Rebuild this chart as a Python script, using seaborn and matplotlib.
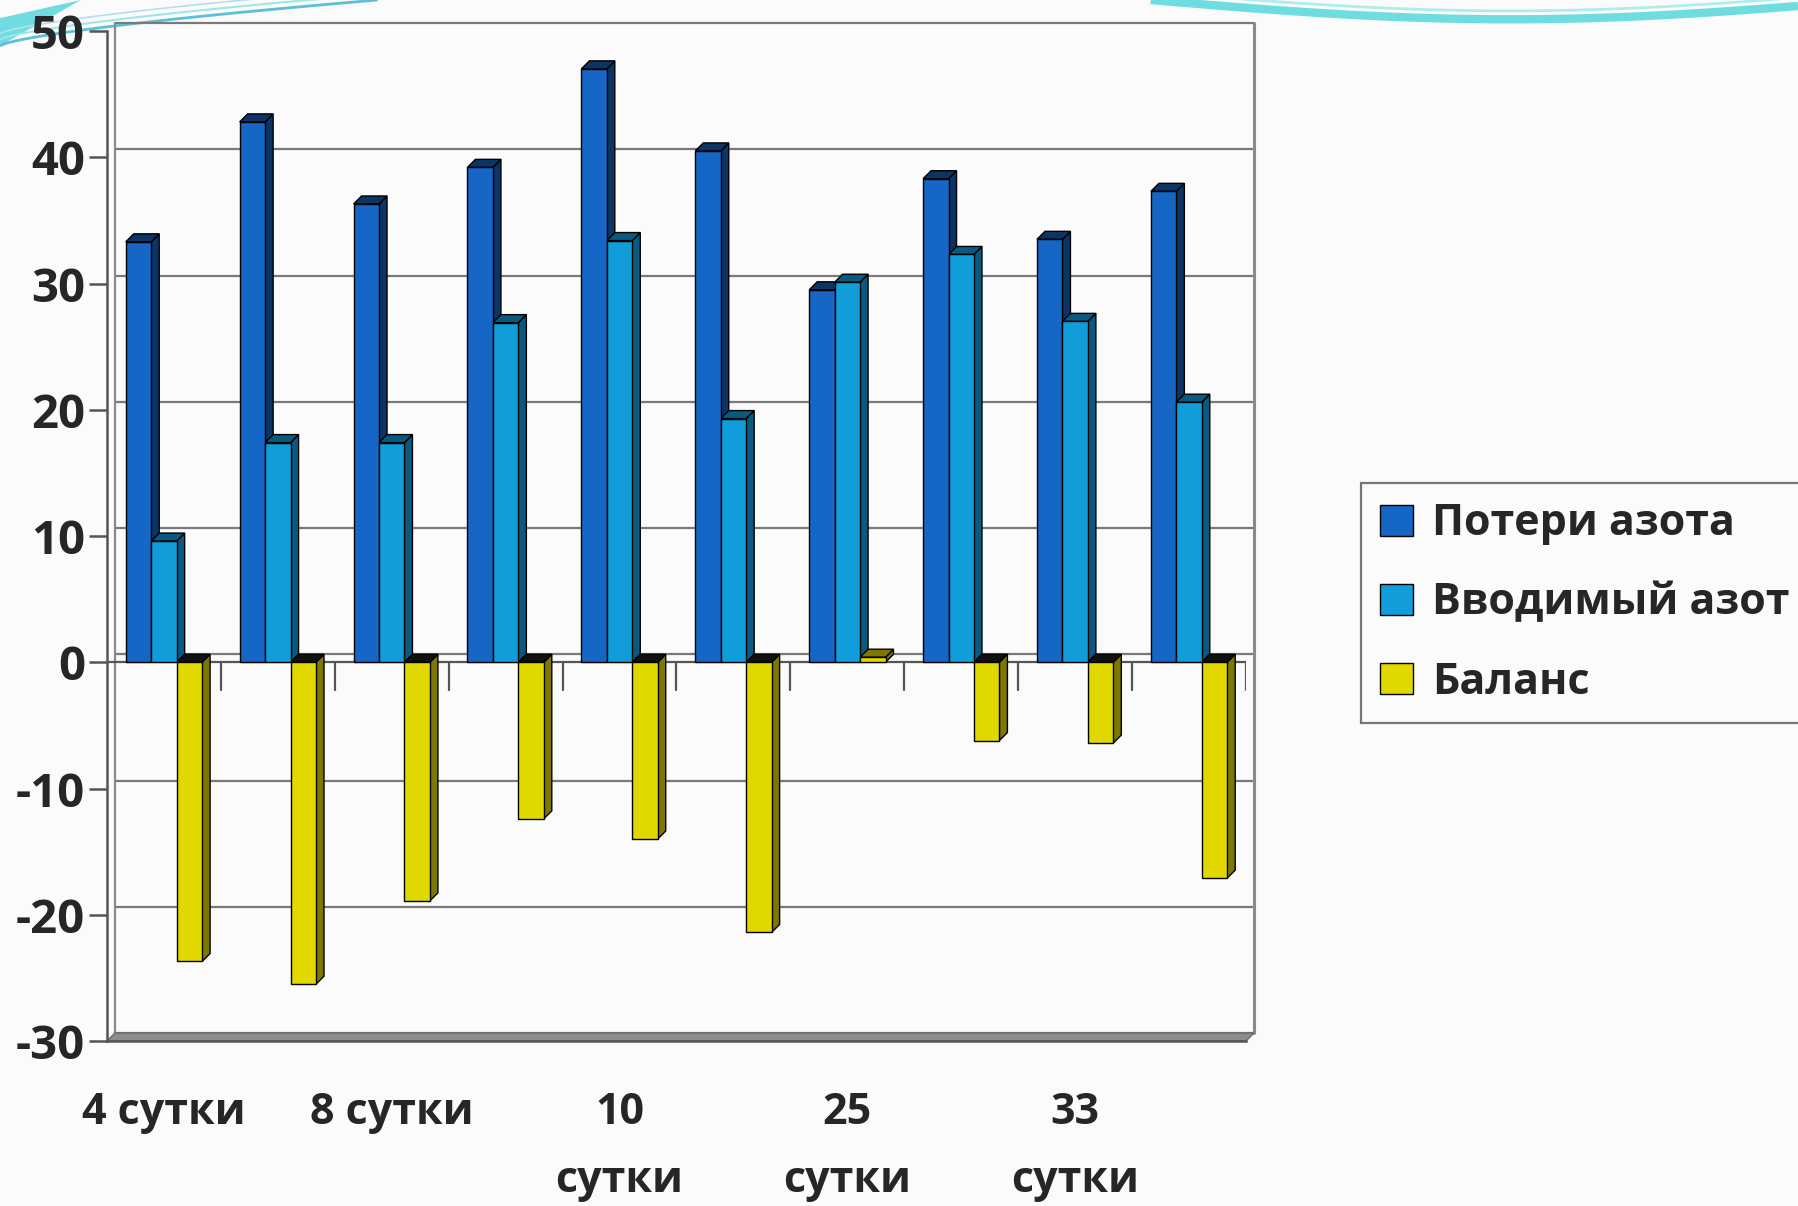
import numpy as np
import pandas as pd
import matplotlib
matplotlib.use("Agg")
import matplotlib.pyplot as plt
from matplotlib.patches import Polygon
from matplotlib.lines import Line2D
import seaborn as sns

# Nitrogen balance by observation period (10 periods, every other one labelled)
periods = list(range(1, 11))
tick_labels = ["4 сутки", "", "8 сутки", "", "10\nсутки",
               "", "25\nсутки", "", "33\nсутки", ""]
losses = [33.3, 42.8, 36.3, 39.2, 47.0, 40.5, 29.5, 38.3, 33.5, 37.3]
intake = [9.6, 17.4, 17.4, 26.9, 33.4, 19.3, 30.1, 32.3, 27.0, 20.6]
balance = [-23.7, -25.5, -18.9, -12.4, -14.0, -21.4, 0.4, -6.2, -6.4, -17.1]
series = ["Потери азота", "Вводимый азот", "Баланс"]
y_ticks = [-30, -20, -10, 0, 10, 20, 30, 40, 50]

front = ["#1666C6", "#109DD9", "#E1D800"]
side = ["#0C3566", "#0A5A80", "#7E7800"]

df = pd.DataFrame({
    "period": periods * 3,
    "value": losses + intake + balance,
    "series": [series[0]] * 10 + [series[1]] * 10 + [series[2]] * 10,
})

sns.set_theme(style="white")
plt.rcParams["font.family"] = ["Open Sans", "DejaVu Sans"]
plt.rcParams["axes.unicode_minus"] = False

fig = plt.figure(figsize=(17.98, 12.06), dpi=100)
fig.patch.set_facecolor("#FBFBFB")
ax = fig.add_axes([0.0595, 0.1368, 0.6335, 0.8375])
ax.set_facecolor("#FBFBFB")

sns.barplot(data=df, x="period", y="value", hue="series", order=periods,
            hue_order=series, palette=front, width=0.67, dodge=True,
            edgecolor="black", linewidth=1.0, ax=ax, legend=False,
            saturation=1, zorder=3)

ax.set_xlim(-0.5, 9.5)
ax.set_ylim(-30, 50)

# pseudo-3D depth offset in data units
fig.canvas.draw()
px_x = ax.transData.transform((1, 0))[0] - ax.transData.transform((0, 0))[0]
px_y = ax.transData.transform((0, 10))[1] - ax.transData.transform((0, 0))[1]
depth_px = 8.0
dx = depth_px / px_x
dy = depth_px / px_y * 10

# back wall with grid lines
for yv in y_ticks:
    ax.plot([-0.5 + dx, 9.5 + dx], [yv + dy, yv + dy], color="#7A7A7A",
            lw=1.6, zorder=0, clip_on=False)
ax.plot([9.5 + dx, 9.5 + dx], [-30 + dy, 50 + dy], color="#8A8A8A",
        lw=2.2, zorder=0, clip_on=False)
ax.plot([-0.5 + dx, -0.5 + dx], [-30 + dy, 50 + dy], color="#8A8A8A",
        lw=1.6, zorder=0, clip_on=False)

# floor strip
floor = Polygon([(-0.5, -30), (9.5, -30), (9.5 + dx, -30 + dy),
                 (-0.5 + dx, -30 + dy)], closed=True, facecolor="#8C8C8C",
                edgecolor="#6A6A6A", lw=1.0, zorder=1, clip_on=False)
ax.add_patch(floor)

# side and top faces of each bar
for ci, cont in enumerate(ax.containers):
    for bar in cont:
        x0 = bar.get_x()
        x1 = x0 + bar.get_width()
        y0 = bar.get_y()
        y1 = y0 + bar.get_height()
        top, bot = max(y0, y1), min(y0, y1)
        sf = Polygon([(x1, bot), (x1, top), (x1 + dx, top + dy),
                      (x1 + dx, bot + dy)], closed=True,
                     facecolor=side[ci], edgecolor="black", lw=1.0,
                     zorder=2.5)
        tf_color = side[ci] if y1 >= y0 else "#111111"
        tf = Polygon([(x0, top), (x1, top), (x1 + dx, top + dy),
                      (x0 + dx, top + dy)], closed=True,
                     facecolor=tf_color, edgecolor="black", lw=1.0,
                     zorder=2.5)
        ax.add_patch(sf)
        ax.add_patch(tf)

# zero line with category separators
ax.axhline(0, color="#555555", lw=1.6, zorder=2)
for xb in np.arange(0.5, 9.6, 1.0):
    ax.plot([xb, xb], [0, -2.2], color="#555555", lw=1.6, zorder=2)

for s in ["top", "right"]:
    ax.spines[s].set_visible(False)
ax.spines["left"].set_color("#555555")
ax.spines["left"].set_linewidth(1.8)
ax.spines["bottom"].set_color("#555555")
ax.spines["bottom"].set_linewidth(1.8)

ax.set_yticks(y_ticks)
ax.set_yticklabels([str(v) for v in y_ticks])
ax.set_xticks(range(10))
ax.set_xticklabels(tick_labels, va="top", linespacing=1.75)
ax.set_xticks(np.arange(-0.5, 9.6, 1.0), minor=True)
ax.tick_params(axis="x", which="major", length=0, pad=36, labelsize=31)
ax.tick_params(axis="x", which="minor", length=14, width=1.8,
               color="#555555", direction="out")
ax.tick_params(axis="y", length=13, width=1.8, color="#555555",
               labelsize=34, pad=3, left=True)
for lab in ax.get_xticklabels() + ax.get_yticklabels():
    lab.set_fontweight("bold")
ax.set_xlabel("")
ax.set_ylabel("")

handles = [plt.Rectangle((0, 0), 1, 1, facecolor=c, edgecolor="black", lw=1.0)
           for c in front]
leg = fig.legend(handles, series, loc="center left",
                 bbox_to_anchor=(0.757, 0.50), borderaxespad=0.0,
                 prop={"size": 31, "weight": "bold"},
                 handlelength=0.75, handleheight=0.75, handletextpad=0.45,
                 labelspacing=0.84, borderpad=0.45, frameon=True,
                 fancybox=False)
leg.get_frame().set_edgecolor("#555555")
leg.get_frame().set_linewidth(1.6)
leg.get_frame().set_facecolor("#FBFBFB")

# decorative swooshes along the top edge of the slide
t = np.linspace(0, 1, 80)
fig.add_artist(Polygon(np.column_stack([
    np.concatenate([0.045 * t, 0.045 * t[::-1]]),
    np.concatenate([0.962 + 0.038 * t, 0.985 + 0.015 * t[::-1]])]),
    closed=True, transform=fig.transFigure, facecolor="#6FDCE0",
    edgecolor="none", zorder=0))
for off, col, lw in [(0.0, "#5FBFD8", 2.0), (0.005, "#9FE6E8", 1.5),
                     (0.010, "#B8DDF0", 1.2)]:
    xs = 0.21 * t
    ys = 0.962 + off + 0.038 * t ** 0.7
    fig.add_artist(Line2D(xs, ys, transform=fig.transFigure, color=col,
                          lw=lw, solid_capstyle="butt", zorder=0))
for off, col, lw in [(0.0, "#6FDCE0", 6), (0.007, "#B0ECEE", 2.0)]:
    xs = 0.64 + 0.36 * t
    ys = 1.0 + off - 0.016 * np.sin(np.pi * t * 0.9)
    fig.add_artist(Line2D(xs, ys, transform=fig.transFigure, color=col,
                          lw=lw, solid_capstyle="butt", zorder=0))

fig.savefig("out.png", dpi=100, facecolor=fig.get_facecolor())
